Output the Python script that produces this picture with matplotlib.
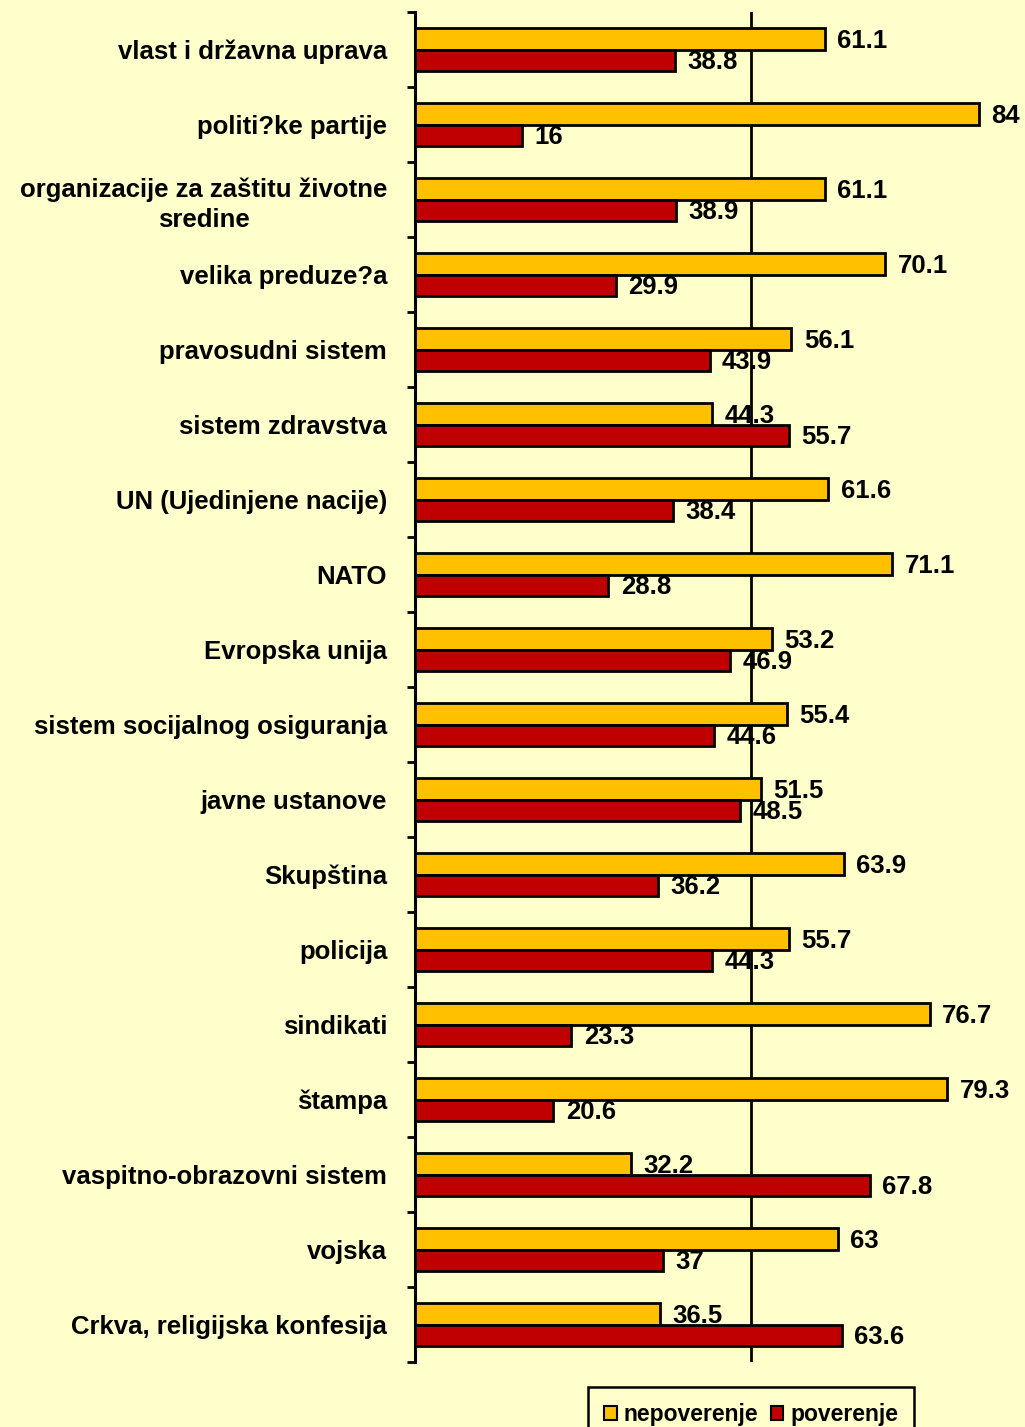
import matplotlib.pyplot as plt
import numpy as np

# institucije, odozgo nadole
institucije = [
    "vlast i državna uprava",
    "politi?ke partije",
    "organizacije za zaštitu životne\nsredine",
    "velika preduze?a",
    "pravosudni sistem",
    "sistem zdravstva",
    "UN (Ujedinjene nacije)",
    "NATO",
    "Evropska unija",
    "sistem socijalnog osiguranja",
    "javne ustanove",
    "Skupština",
    "policija",
    "sindikati",
    "štampa",
    "vaspitno-obrazovni sistem",
    "vojska",
    "Crkva, religijska konfesija",
]
nepoverenje = [61.1, 84, 61.1, 70.1, 56.1, 44.3, 61.6, 71.1, 53.2, 55.4,
               51.5, 63.9, 55.7, 76.7, 79.3, 32.2, 63, 36.5]
poverenje = [38.8, 16, 38.9, 29.9, 43.9, 55.7, 38.4, 28.8, 46.9, 44.6,
             48.5, 36.2, 44.3, 23.3, 20.6, 67.8, 37, 63.6]
oznake_n = ["61.1", "84", "61.1", "70.1", "56.1", "44.3", "61.6", "71.1", "53.2",
            "55.4", "51.5", "63.9", "55.7", "76.7", "79.3", "32.2", "63", "36.5"]
oznake_p = ["38.8", "16", "38.9", "29.9", "43.9", "55.7", "38.4", "28.8", "46.9",
            "44.6", "48.5", "36.2", "44.3", "23.3", "20.6", "67.8", "37", "63.6"]

pozadina = "#FFFFCC"
zuta = "#FFC000"
crvena = "#C00000"
font = "Liberation Sans"

fig = plt.figure(figsize=(10.25, 14.27), dpi=100, facecolor=pozadina)
ax = fig.add_axes([415 / 1025, 1 - 1362 / 1427, 671 / 1025, 1350 / 1427])
ax.set_facecolor(pozadina)

y = np.arange(len(institucije))
h = 0.29
ax.barh(y - 0.145, nepoverenje, height=h, color=zuta, edgecolor="black",
        linewidth=2, label="nepoverenje", zorder=3)
ax.barh(y + 0.145, poverenje, height=h, color=crvena, edgecolor="black",
        linewidth=2, label="poverenje", zorder=3)

for i in range(len(institucije)):
    ax.annotate(oznake_n[i], (nepoverenje[i], y[i] - 0.145), xytext=(9, -1.5),
                textcoords="offset points", va="center", ha="left",
                fontsize=18.5, fontweight="bold", family=font, zorder=5)
    ax.annotate(oznake_p[i], (poverenje[i], y[i] + 0.145), xytext=(9, -1.5),
                textcoords="offset points", va="center", ha="left",
                fontsize=18.5, fontweight="bold", family=font, zorder=5)

ax.set_xlim(0, 100)
ax.set_ylim(len(institucije) - 0.5, -0.5)

# linija na 50%
ax.set_xticks([50])
ax.xaxis.grid(True, color="black", linewidth=2)
ax.set_axisbelow(True)
ax.tick_params(axis="x", length=0, labelbottom=False)

# podeoci izmedju kategorija, nazivi u sredini
ax.set_yticks(np.arange(len(institucije) + 1) - 0.5)
ax.set_yticklabels([])
ax.set_yticks(y, minor=True)
ax.set_yticklabels(institucije, minor=True, fontsize=18.5, fontweight="bold",
                   family=font)
ax.tick_params(axis="y", which="major", length=6, width=2)
ax.tick_params(axis="y", which="minor", length=0, pad=20)
for t in ax.get_yticklabels(minor=True):
    t.set_multialignment("center")
    t.set_linespacing(1.3)

for s in ["top", "right", "bottom"]:
    ax.spines[s].set_visible(False)
ax.spines["left"].set_linewidth(2.2)

leg = fig.legend(loc="upper left", bbox_to_anchor=(588 / 1025, 1 - 1387 / 1427),
                 ncol=2, frameon=True, fancybox=False, framealpha=1,
                 borderaxespad=0, handlelength=0.55, handleheight=0.55,
                 handletextpad=0.3, columnspacing=0.55, borderpad=0.7,
                 prop={"family": font, "weight": "bold", "size": 16.5})
leg.get_frame().set_edgecolor("black")
leg.get_frame().set_linewidth(1.8)
leg.get_frame().set_facecolor(pozadina)
for p in leg.get_patches():
    p.set_linewidth(1.5)

fig.savefig("out.png", dpi=100, facecolor=pozadina)
